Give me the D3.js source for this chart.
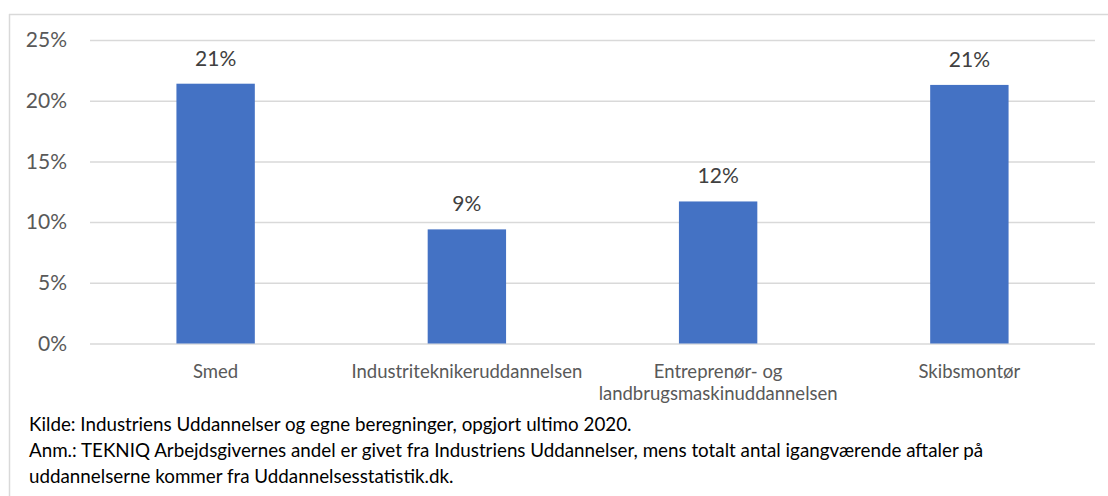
<!DOCTYPE html>
<html>
<head>
<meta charset="utf-8">
<script src="https://cdn.jsdelivr.net/npm/d3@7"></script>
<style>
  body { margin: 0; background: #fff; }
  text { font-family: Lato, "Open Sans", sans-serif; }
</style>
</head>
<body>
<div id="container"></div>
<script>
/* DATA */
const categories = ["Smed", "Industriteknikeruddannelsen", "Entreprenør- og landbrugsmaskinuddannelsen", "Skibsmontør"];
const categoryLines = [["Smed"], ["Industriteknikeruddannelsen"], ["Entreprenør- og", "landbrugsmaskinuddannelsen"], ["Skibsmontør"]];
const shares = [0.214, 0.094, 0.117, 0.213];
const valueLabels = ["21%", "9%", "12%", "21%"];
const yTicks = [0, 0.05, 0.10, 0.15, 0.20, 0.25];
const footnotes = [
  "Kilde: Industriens Uddannelser og egne beregninger, opgjort ultimo 2020.",
  "Anm.: TEKNIQ Arbejdsgivernes andel er givet fra Industriens Uddannelser, mens totalt antal igangværende aftaler på",
  "uddannelserne kommer fra Uddannelsesstatistik.dk."
];

/* CONSTANTS */
const width = 1108, height = 496;
const margin = { top: 40, bottom: 152.5, left: 90, right: 13 };

const svg = d3.select("#container")
  .append("svg")
  .attr("width", width)
  .attr("height", height);

// chart area border (only top and left are inside the picture)
svg.append("line")
  .attr("x1", 9).attr("x2", width).attr("y1", 14.5).attr("y2", 14.5)
  .attr("stroke", "#d9d9d9").attr("stroke-width", 1.5);
svg.append("line")
  .attr("x1", 9.5).attr("x2", 9.5).attr("y1", 14).attr("y2", height)
  .attr("stroke", "#d9d9d9").attr("stroke-width", 1.5);

const xScale = d3.scaleBand()
  .domain(categories)
  .range([margin.left, width - margin.right])
  .padding(0);

const yScale = d3.scaleLinear()
  .domain([0, 0.25])
  .range([height - margin.bottom, margin.top]);

// gridlines + y labels
const yAxis = d3.axisLeft(yScale)
  .tickValues(yTicks)
  .tickFormat(d => Math.round(d * 100) + "%")
  .tickSize(-(width - margin.left - margin.right))
  .tickPadding(23);

svg.append("g")
  .attr("transform", `translate(${margin.left}, 0)`)
  .call(yAxis)
  .call(g => g.select(".domain").remove())
  .call(g => g.selectAll(".tick line").attr("stroke", "#d9d9d9").attr("stroke-width", 1.5))
  .call(g => g.selectAll(".tick text")
    .attr("fill", "#595959")
    .style("font-size", "21px")
    .style("font-family", "Lato, 'Open Sans', sans-serif"));

// bars
const barW = xScale.bandwidth() * 0.312;
svg.selectAll(".bar")
  .data(categories)
  .join("rect")
  .attr("class", "bar")
  .attr("x", d => xScale(d) + xScale.bandwidth() / 2 - barW / 2)
  .attr("y", (d, i) => yScale(shares[i]))
  .attr("width", barW)
  .attr("height", (d, i) => yScale(0) - yScale(shares[i]))
  .attr("fill", "#4472c4");

// value labels
svg.selectAll(".value-label")
  .data(categories)
  .join("text")
  .attr("class", "value-label")
  .attr("x", d => xScale(d) + xScale.bandwidth() / 2)
  .attr("y", (d, i) => yScale(shares[i]) - 18)
  .attr("text-anchor", "middle")
  .attr("fill", "#404040")
  .style("font-size", "21px")
  .text((d, i) => valueLabels[i]);

// category labels
const catLabels = svg.selectAll(".cat-label")
  .data(categories)
  .join("text")
  .attr("class", "cat-label")
  .attr("x", d => xScale(d) + xScale.bandwidth() / 2)
  .attr("y", yScale(0) + 34)
  .attr("text-anchor", "middle")
  .attr("fill", "#595959")
  .style("font-size", "18.5px");

catLabels.selectAll("tspan")
  .data((d, i) => categoryLines[i].map(t => ({ t, x: xScale(d) + xScale.bandwidth() / 2 })))
  .join("tspan")
  .attr("x", d => d.x)
  .attr("dy", (d, i) => i === 0 ? 0 : 22)
  .text(d => d.t);

// footnotes
svg.selectAll(".footnote")
  .data(footnotes)
  .join("text")
  .attr("class", "footnote")
  .attr("x", 29)
  .attr("y", (d, i) => 431 + i * 26)
  .attr("fill", "#000")
  .style("font-size", "18.8px")
  .text(d => d);
</script>
</body>
</html>
